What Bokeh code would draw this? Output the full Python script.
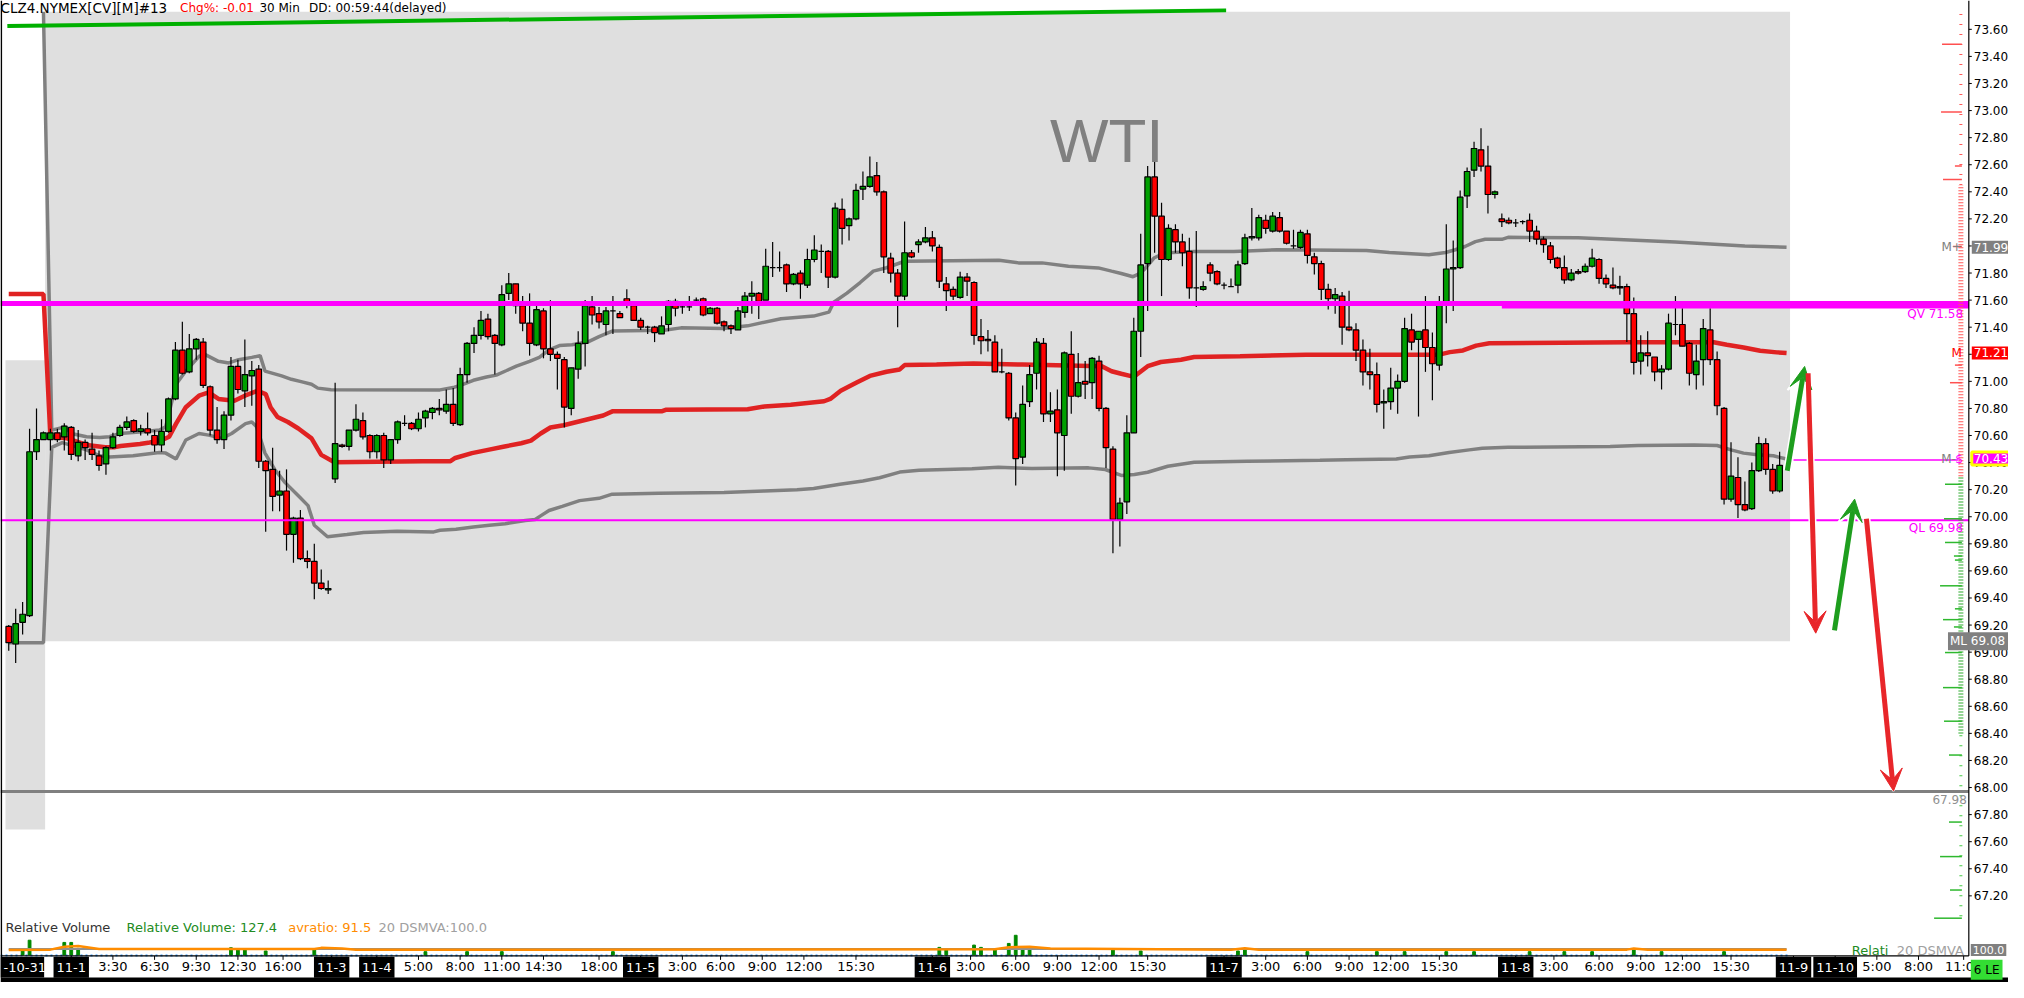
from bokeh.plotting import figure
from bokeh.models import Range1d, Label, Arrow, VeeHead
from bokeh.core.properties import value
from bokeh.embed import file_html
from bokeh.resources import INLINE

# ---------------- data (30-min candles, CLZ4) ----------------
opens = [
 69.19,69.06,69.22,69.27,70.48,70.57,70.57,70.62,70.59,70.66,
 70.45,70.55,70.50,70.45,70.39,70.51,70.60,70.66,70.71,70.63,
 70.65,70.60,70.53,70.63,70.87,71.23,71.07,71.24,71.29,70.96,
 70.64,70.57,70.75,71.11,70.93,71.04,71.09,70.41,70.35,70.16,
 70.19,69.87,69.99,69.69,69.67,69.51,69.46,70.28,70.53,70.52,
 70.64,70.71,70.60,70.48,70.60,70.42,70.57,70.69,70.69,70.65,
 70.73,70.77,70.80,70.78,70.83,70.68,71.05,71.28,71.34,71.46,
 71.34,71.27,71.65,71.72,71.56,71.43,71.27,71.52,71.24,71.20,
 71.16,70.80,71.09,71.28,71.55,71.50,71.42,71.52,71.50,71.61,
 71.56,71.45,71.40,71.40,71.35,71.42,71.59,71.55,71.55,71.60,
 71.61,71.50,71.54,71.44,71.41,71.38,71.51,71.63,71.65,71.60,
 71.84,71.84,71.86,71.72,71.80,71.71,71.90,71.96,71.96,71.77,
 72.27,72.15,72.20,72.42,72.44,72.52,72.40,71.91,71.80,71.63,
 71.95,72.01,72.03,72.06,71.99,71.72,71.68,71.62,71.77,71.73,
 71.33,71.31,71.29,71.07,71.06,70.73,70.44,70.85,71.06,71.28,
 70.76,70.79,70.60,71.20,70.89,71.00,70.99,71.15,70.80,70.50,
 69.98,70.11,70.62,71.37,71.87,72.51,72.22,71.90,72.12,72.03,
 71.96,71.69,71.68,71.86,71.81,71.71,71.70,71.71,71.87,72.06,
 72.06,72.19,72.11,72.21,72.11,72.00,71.99,72.09,71.92,71.87,
 71.68,71.61,71.63,71.40,71.38,71.23,71.07,71.05,70.84,70.85,
 70.95,71.00,71.38,71.31,71.38,71.25,71.12,71.57,71.83,71.84,
 72.37,72.56,72.71,72.59,72.38,72.20,72.19,72.17,72.18,72.19,
 72.11,72.05,72.00,71.91,71.84,71.75,71.81,71.81,71.85,71.90,
 71.76,71.71,71.69,71.70,71.50,71.15,71.21,71.18,71.07,71.09,
 71.42,71.42,71.28,71.05,71.16,71.38,71.16,70.80,70.13,70.29,
 70.09,70.06,70.34,70.54,70.35,70.19]
highs = [
 69.20,69.32,69.37,70.65,70.80,70.63,70.65,70.65,70.69,70.67,
 70.64,70.57,70.62,70.49,70.52,70.62,70.68,70.74,70.72,70.68,
 70.77,70.64,70.72,70.88,71.29,71.44,71.35,71.32,71.32,70.97,
 70.81,70.78,71.18,71.16,71.31,71.15,71.12,70.42,70.51,70.34,
 70.35,70.00,70.05,69.75,69.80,69.61,69.53,70.99,70.54,70.64,
 70.83,70.77,70.61,70.61,70.62,70.57,70.71,70.75,70.70,70.77,
 70.79,70.81,70.87,70.94,70.95,71.10,71.29,71.40,71.52,71.50,
 71.35,71.71,71.80,71.72,71.63,71.65,71.56,71.54,71.60,71.22,
 71.18,71.10,71.37,71.60,71.63,71.55,71.55,71.63,71.52,71.68,
 71.58,71.47,71.41,71.41,71.48,71.60,71.61,71.59,71.63,71.62,
 71.62,71.55,71.55,71.45,71.42,71.55,71.66,71.74,71.66,71.98,
 72.03,71.96,71.87,71.80,71.82,71.98,72.08,72.01,71.97,72.32,
 72.35,72.21,72.46,72.55,72.66,72.62,72.41,71.95,71.83,72.18,
 71.97,72.05,72.14,72.11,72.01,71.77,71.70,71.81,71.80,71.74,
 71.46,71.38,71.34,71.24,71.07,70.77,70.97,71.12,71.32,71.32,
 70.92,70.94,71.22,71.37,71.21,71.15,71.18,71.19,70.81,70.52,
 70.14,70.75,71.47,72.09,72.59,72.62,72.32,72.16,72.16,72.09,
 72.06,72.11,71.74,71.88,71.82,71.73,71.76,71.89,72.09,72.28,
 72.23,72.23,72.25,72.25,72.11,72.12,72.12,72.12,71.95,71.89,
 71.72,71.69,71.66,71.67,71.43,71.31,71.24,71.14,70.94,71.10,
 71.05,71.47,71.50,71.37,71.63,71.36,71.63,72.16,72.04,72.41,
 72.58,72.77,72.87,72.74,72.41,72.24,72.21,72.20,72.19,72.24,
 72.15,72.07,72.03,71.92,71.93,71.83,71.83,71.87,71.98,71.91,
 71.79,71.84,71.78,71.72,71.62,71.34,71.37,71.18,71.12,71.50,
 71.63,71.54,71.29,71.27,71.46,71.54,71.22,70.81,70.55,70.44,
 70.26,70.40,70.59,70.58,70.39,70.48]
lows = [
 69.01,68.92,69.13,69.26,70.42,70.57,70.49,70.55,70.49,70.42,
 70.41,70.42,70.42,70.34,70.31,70.50,70.59,70.64,70.62,70.60,
 70.60,70.48,70.48,70.62,70.86,71.05,71.06,71.16,70.95,70.60,
 70.54,70.50,70.71,70.91,70.81,70.82,70.36,69.89,70.04,70.04,
 69.75,69.66,69.68,69.62,69.39,69.46,69.43,70.25,70.51,70.49,
 70.63,70.57,70.43,70.43,70.36,70.39,70.54,70.67,70.64,70.63,
 70.66,70.72,70.75,70.76,70.67,70.67,70.99,71.21,71.31,71.31,
 71.05,71.26,71.60,71.50,71.37,71.19,71.26,71.17,71.15,70.94,
 70.66,70.75,71.02,71.11,71.42,71.39,71.34,71.35,71.47,71.54,
 71.45,71.38,71.35,71.29,71.35,71.37,71.48,71.50,71.52,71.57,
 71.48,71.50,71.42,71.37,71.35,71.38,71.47,71.50,71.46,71.60,
 71.77,71.81,71.66,71.71,71.61,71.69,71.88,71.80,71.69,71.76,
 72.01,72.04,72.19,72.34,72.43,72.37,71.80,71.73,71.40,71.60,
 71.91,71.95,72.02,71.96,71.69,71.52,71.60,71.61,71.63,71.27,
 71.20,71.22,71.07,71.06,70.71,70.23,70.39,70.81,70.94,70.70,
 70.70,70.30,70.34,70.76,70.88,70.87,70.87,70.78,70.36,69.73,
 69.78,70.02,70.62,71.18,71.52,71.95,71.63,71.89,71.95,71.85,
 71.61,71.55,71.67,71.74,71.71,71.68,71.70,71.65,71.86,72.04,
 72.04,72.09,72.10,72.10,72.01,71.98,71.98,71.87,71.79,71.60,
 71.53,71.50,71.27,71.37,71.15,70.97,70.94,70.77,70.65,70.79,
 70.76,70.99,71.23,70.74,71.07,70.86,71.08,71.43,71.52,71.83,
 72.28,72.51,72.55,72.24,72.35,72.14,72.16,72.14,72.16,72.03,
 72.01,71.95,71.87,71.83,71.72,71.74,71.79,71.80,71.84,71.72,
 71.69,71.68,71.64,71.29,71.05,71.05,71.11,71.00,70.94,71.08,
 71.34,71.26,70.97,70.94,70.97,71.12,70.75,70.09,70.11,69.99,
 70.04,70.05,70.33,70.31,70.17,70.18]
closes = [
 69.07,69.21,69.28,70.48,70.57,70.62,70.62,70.57,70.67,70.46,
 70.55,70.51,70.46,70.38,70.51,70.59,70.66,70.70,70.63,70.65,
 70.62,70.53,70.63,70.87,71.23,71.06,71.24,71.31,70.97,70.64,
 70.57,70.75,71.11,70.94,71.05,71.08,70.41,70.34,70.15,70.19,
 69.87,69.99,69.69,69.67,69.51,69.47,69.47,70.54,70.52,70.64,
 70.72,70.59,70.48,70.60,70.42,70.57,70.70,70.69,70.65,70.72,
 70.78,70.80,70.79,70.83,70.69,71.05,71.28,71.34,71.45,71.33,
 71.28,71.64,71.72,71.56,71.43,71.28,71.53,71.24,71.20,71.17,
 70.81,71.10,71.28,71.56,71.49,71.44,71.52,71.52,71.47,71.58,
 71.45,71.40,71.40,71.36,71.41,71.59,71.54,71.55,71.55,71.60,
 71.49,71.54,71.43,71.41,71.39,71.52,71.63,71.65,71.59,71.85,
 71.84,71.84,71.72,71.79,71.72,71.90,71.97,71.96,71.77,72.28,
 72.13,72.20,72.41,72.44,72.51,72.40,71.92,71.80,71.63,71.95,
 71.92,72.03,72.06,72.00,71.74,71.67,71.63,71.77,71.74,71.34,
 71.30,71.30,71.07,71.07,70.73,70.43,70.83,71.05,71.29,70.76,
 70.78,70.62,71.21,70.89,70.99,70.98,71.17,70.80,70.51,69.98,
 70.10,70.62,71.37,71.86,72.51,72.22,71.90,72.13,72.03,71.95,
 71.69,71.69,71.70,71.80,71.72,71.71,71.70,71.86,72.06,72.07,
 72.21,72.13,72.22,72.11,72.02,72.00,72.10,71.93,71.87,71.68,
 71.61,71.64,71.40,71.38,71.23,71.07,71.05,70.83,70.85,70.95,
 71.00,71.39,71.29,71.37,71.25,71.13,71.57,71.83,71.84,72.36,
 72.55,72.72,72.59,72.38,72.40,72.18,72.17,72.17,72.18,72.11,
 72.05,72.01,71.90,71.84,71.75,71.80,71.80,71.85,71.91,71.76,
 71.72,71.69,71.70,71.50,71.14,71.21,71.19,71.07,71.09,71.43,
 71.42,71.26,71.06,71.15,71.39,71.16,70.82,70.13,70.30,70.09,
 70.05,70.34,70.54,70.35,70.19,70.38]
bar_idx = list(range(len(opens)))

# VWAP (red) and bands (gray): vertices (bar index, price)
vwap_idx = [0,5,6,8.3,11.2,13.9,15.3,16.1,18.9,20.3,22.1,23.1,24.1,25.5,27.4,28.8,30.2,32.5,34,35.8,37,37.7,38.7,40.2,41.7,43.6,45,46.9,
            59.6,63.6,64.3,66.7,69,71.4,73.8,75.2,76.6,78,79.9,81.8,83.7,85.6,87,94.1,94.6,106.4,108.8,112.6,117.4,118.3,119.8,122.1,124,
            126.4,128.3,129,133.6,138.9,146,157.4,158.8,160.2,161.6,162.3,164,165.9,168.8,170.7,177.3,186.8,206,207.5,209.4,211.3,213.2,
            223.7,233.3,245.5,247.4,249.8,252.2,254.6,256]
vwap_val = [71.645,71.645,70.59,70.58,70.53,70.514,70.514,70.523,70.537,70.548,70.567,70.591,70.688,70.809,70.894,70.918,70.87,70.857,70.894,70.93,70.906,70.809,70.737,70.70,70.652,70.579,70.457,70.402,
            70.41,70.41,70.434,70.47,70.494,70.519,70.543,70.562,70.615,70.659,70.676,70.70,70.724,70.748,70.78,70.78,70.79,70.794,70.814,70.828,70.853,70.87,70.93,70.991,71.04,
            71.071,71.088,71.12,71.124,71.131,71.124,71.112,71.075,71.056,71.039,71.045,71.112,71.143,71.16,71.18,71.185,71.197,71.197,71.216,71.228,71.264,71.281,
            71.286,71.289,71.289,71.27,71.25,71.226,71.214,71.209]
upper_idx = [5,6.2,8.1,9,11.2,13.1,14.5,16,19.3,21.7,22.6,24.1,25.5,27.4,28.3,30.2,31.7,33.1,35,36.2,36.9,39.3,40.7,42.1,43.6,44.5,46.4,
             62.1,64,65.5,66.9,68.8,70.2,71.7,73.1,75,76.4,77.8,79.3,81.1,83.5,85,86.9,94.4,96.8,102.9,106.4,111.2,115.9,118.1,118.8,120.7,
             122.6,124.5,126.4,129,142.6,145.4,148.8,152.6,156.9,158.8,160.2,161.9,162.6,163.5,164.9,166.4,170.7,176.4,182.6,195.5,198.8,
             204.5,206.9,208.3,209.7,211.2,212.6,215,215.9,226,240,250,256]
upper_val = [73.73,70.64,70.664,70.615,70.591,70.586,70.591,70.615,70.627,70.64,70.664,70.979,71.076,71.185,71.197,71.148,71.136,71.16,71.177,71.19,71.076,71.04,71.015,70.998,70.979,70.95,70.938,
             70.937,70.954,70.979,71.008,71.032,71.046,71.08,71.112,71.148,71.177,71.233,71.264,71.27,71.293,71.33,71.371,71.378,71.395,71.39,71.41,71.463,71.482,71.511,71.584,71.652,
             71.73,71.814,71.839,71.887,71.894,71.875,71.875,71.85,71.838,71.814,71.797,71.773,71.79,71.826,71.911,71.948,71.96,71.96,71.972,71.967,71.952,
             71.935,71.952,71.972,71.996,72.032,72.049,72.049,72.064,72.06,72.03,72.0,71.99]
lower_idx = [0,5,6.2,7.7,8.3,11.2,13.1,14.5,17.9,21.7,22.6,24.1,25.5,27.4,28.8,30.7,32.1,34.1,35,35.7,36.9,38.3,39.8,41.7,43.1,44,45.9,48.7,
             51.1,55.9,61.2,62.1,64.4,66.9,69.2,71.5,74.4,75.8,76.7,77.8,79.7,82.2,85,86.9,93.6,103,108.8,113.5,115.9,119.7,123,125.4,128.3,
             131.1,134.9,138.7,142.5,147.3,155.5,157.9,160.2,162.1,164,166.9,170.7,178.3,188.8,192.6,199.8,201.7,204.5,207.4,210.3,212.2,
             215.9,230.6,234.6,242.7,246,248,249.8,251.8,254.1,256]
lower_val = [69.07,69.07,70.513,70.547,70.538,70.494,70.45,70.441,70.45,70.475,70.47,70.426,70.567,70.615,70.603,70.579,70.615,70.688,70.70,70.664,70.47,70.349,70.252,70.155,70.082,69.937,69.852,69.869,
             69.884,69.893,69.888,69.9,69.908,69.925,69.937,69.949,69.973,69.98,70.01,70.046,70.077,70.119,70.136,70.167,70.174,70.18,70.191,70.199,70.208,70.24,70.264,70.288,70.33,
             70.344,70.349,70.354,70.366,70.356,70.361,70.349,70.305,70.312,70.329,70.373,70.402,70.41,70.417,70.421,70.426,70.441,70.45,70.475,70.494,70.506,
             70.513,70.518,70.526,70.53,70.526,70.494,70.47,70.458,70.45,70.426]

# shaded ranges (prior-day ranges)
range_left = [5.24, -0.47]
range_right = [256.5, 5.24]
range_bottom = [69.08, 67.69]
range_top = [73.73, 71.155]

# green trend line at the top
trend_idx = [-0.2, 175.3]
trend_val = [73.624, 73.74]

# horizontal levels
qv_level = 71.575
qv_today = 71.557
qv_today_from = 215
ql_level = 69.975
mminus_level = 70.42
mminus_from = 257
low_target = 67.97

# right-axis highlighted values
m_plus, m_mid, m_minus, m_low = 71.99, 71.21, 70.43, 69.08

# axis ticks
price_ticks = [67.2, 67.4, 67.6, 67.8, 68.0, 68.2, 68.4, 68.6, 68.8, 69.0, 69.2, 69.4, 69.6, 69.8, 70.0, 70.2, 70.4,
               70.6, 70.8, 71.0, 71.2, 71.4, 71.6, 71.8, 72.0, 72.2, 72.4, 72.6, 72.8, 73.0, 73.2, 73.4, 73.6]
time_pos = [15, 21, 27, 33, 39.5, 59, 65, 71, 77, 85, 97, 102.5, 108.5, 114.5, 122, 138.5, 145, 151, 157, 164,
            181, 187, 193, 199, 206, 222.5, 229, 235, 241, 248, 269, 275, 281.5]
time_lab = ["3:30", "6:30", "9:30", "12:30", "16:00", "5:00", "8:00", "11:00", "14:30", "18:00",
            "3:00", "6:00", "9:00", "12:00", "15:30", "3:00", "6:00", "9:00", "12:00", "15:30",
            "3:00", "6:00", "9:00", "12:00", "15:30", "3:00", "6:00", "9:00", "12:00", "15:30",
            "5:00", "8:00", "11:00"]
day_pos = [9, 46.5, 53, 91, 133, 175, 217, 257, 263]
day_lab = ["11-1", "11-3", "11-4", "11-5", "11-6", "11-7", "11-8", "11-9", "11-10"]
first_day_lab = "-10-31"

# relative volume pane
vol_idx = [2, 3, 8, 9, 10, 32, 33, 34, 37, 44, 60, 66, 71, 87, 134, 135, 139, 140, 142, 144, 145, 146, 147,
           159, 163, 177, 178, 187, 197, 201, 207, 211, 219, 224, 228, 234, 238, 247]
vol_val = [67, 250, 212, 212, 112, 122, 95, 83, 67, 100, 55, 55, 55, 55, 128, 83, 167, 128, 100, 195, 333, 112, 112,
           83, 67, 67, 83, 55, 55, 55, 55, 55, 55, 55, 55, 83, 55, 55]
avr_idx = [0, 6, 8, 10, 13, 44, 45, 48, 50, 80, 142, 144, 147, 150, 176, 178, 180, 233, 234, 236, 256]
avr_val = [85, 90, 140, 150, 100, 100, 120, 110, 90, 90, 95, 130, 140, 110, 90, 115, 90, 90, 110, 90, 90]
dsmva_idx = [0, 256]
dsmva_val = [100, 100]

# volume-at-price profile marks (price, length in px)
prof_red_price = [73.49, 72.99, 72.59, 72.49, 71.996, 71.12, 70.99]
prof_red_len = [20, 21, 7, 19, 9, 7, 12]
prof_green_price = [70.24, 69.985, 69.81, 69.71, 69.68, 69.49, 69.32, 69.24, 69.186, 68.997, 68.738, 68.49,
                    68.24, 67.745, 67.49, 67.243, 67.035]
prof_green_len = [17, 18, 17, 8, 7, 22, 7, 19, 8, 17, 19, 18, 13, 13, 22, 12, 28]

# drawn scenario arrows
arrow_x0 = [256.1, 259.1, 262.9, 267.5]
arrow_y0 = [70.34, 71.06, 69.16, 69.985]
arrow_x1 = [258.6, 260.2, 265.8, 271.4]
arrow_y1 = [71.11, 69.14, 70.13, 67.975]
arrow_col = ["#1E9E1E", "#E8262A", "#1E9E1E", "#E8262A"]

# ---------------- helpers: reference pixel position -> data coordinates ----------------
def ix(px):
    return (px - 8.3) / 7.0

def py(px):
    return 73.6 - (px - 29.3) / 137.6

UP, DN = "#00A000", "#FF0000"
MAG = "#FF00FF"
GRAY = "#808080"
FONT = "DejaVu Sans"

AX = ix(1984)      # price axis line
TY = py(971)       # time axis line
X_LO = ix(0)

p = figure(width=2008, height=982, output_backend="svg", toolbar_location=None,
           x_range=Range1d(ix(0), ix(2024)), y_range=Range1d(py(998), py(0)),
           x_axis_location=None, y_axis_location=None,
           min_border_left=0, min_border_top=0, min_border_right=0, min_border_bottom=0)
p.grid.visible = False
p.outline_line_color = None
p.background_fill_color = "white"
p.border_fill_color = "white"
p.extra_y_ranges = {"vol": Range1d(-466.7, 16166.7)}

# shaded range boxes
p.quad(left=range_left, right=range_right, bottom=range_bottom, top=range_top,
       fill_color="#DFDFDF", line_color=None)

# bands and vwap
p.line(upper_idx, upper_val, line_color=GRAY, line_width=3.5)
p.line(lower_idx, lower_val, line_color=GRAY, line_width=3.5)
p.line(vwap_idx, vwap_val, line_color="#E02222", line_width=4.5)

# candles
body_top = [max(o, c) for o, c in zip(opens, closes)]
body_bot = [min(o, c) for o, c in zip(opens, closes)]
cols = [UP if c > o else (DN if c < o else "black") for o, c in zip(opens, closes)]
p.segment(bar_idx, lows, bar_idx, highs, line_color="black", line_width=1.2)
p.vbar(x=bar_idx, top=body_top, bottom=body_bot, width=0.8, fill_color=cols,
       line_color="black", line_width=1.2)

# horizontal levels
p.segment([X_LO], [qv_level], [AX], [qv_level], line_color=MAG, line_width=5)
p.segment([qv_today_from], [qv_today], [AX], [qv_today], line_color=MAG, line_width=5)
p.segment([X_LO], [ql_level], [AX], [ql_level], line_color=MAG, line_width=2)
p.segment([mminus_from], [mminus_level], [ix(1973)], [mminus_level], line_color=MAG, line_width=1.5)
p.segment([X_LO], [low_target], [AX], [low_target], line_color=GRAY, line_width=3)

# green trend line
p.line(trend_idx, trend_val, line_color="#00B000", line_width=4)

# volume profile at right edge
PX_END = ix(1977)
p.line([ix(1976), ix(1976)], [70.30, 72.45], line_color="#FF5A5A", line_width=5, line_dash="1 2")
p.line([ix(1976), ix(1976)], [72.45, 73.75], line_color="#FF5A5A", line_width=3, line_dash="1 9")
p.line([ix(1976), ix(1976)], [68.40, 70.30], line_color="#2EAA2E", line_width=5, line_dash="1 2")
p.line([ix(1976), ix(1976)], [67.05, 68.40], line_color="#44CC44", line_width=3, line_dash="1 9")
p.segment([PX_END - l / 7.0 for l in prof_red_len], prof_red_price, [PX_END] * len(prof_red_len), prof_red_price,
          line_color="#FF5050", line_width=1.5)
p.segment([PX_END - l / 7.0 for l in prof_green_len], prof_green_price, [PX_END] * len(prof_green_len), prof_green_price,
          line_color="#2EB82E", line_width=1.5)

# relative volume pane
p.line([X_LO, 256.5], [-8, -8], y_range_name="vol", line_color="#3399FF", line_width=2, line_dash="2 3")
p.vbar(x=vol_idx, top=vol_val, bottom=0, width=0.4, y_range_name="vol", fill_color="#008800", line_color="#008800")
p.line(dsmva_idx, dsmva_val, y_range_name="vol", line_color="#909090", line_width=2)
p.line(avr_idx, avr_val, y_range_name="vol", line_color="#FF8C00", line_width=2.5)

# ---- price scale (right) ----
n = len(price_ticks)
p.segment([AX], [py(0)], [AX], [TY], line_color="black", line_width=1.2)
p.segment([AX] * n, price_ticks, [ix(1987)] * n, price_ticks, line_color="black", line_width=1)
p.text(x=[ix(1989)] * n, y=price_ticks, text=["%.2f" % t for t in price_ticks],
       text_font=value(FONT), text_font_size="12px", text_color="black",
       text_align="left", text_baseline="middle")

# ---- time scale (bottom) ----
all_pos = time_pos + day_pos
p.segment([X_LO], [TY], [AX], [TY], line_color="black", line_width=1.2)
p.segment(all_pos, [TY] * len(all_pos), all_pos, [py(975)] * len(all_pos), line_color="black", line_width=1)
p.text(x=time_pos, y=[py(982)] * len(time_pos), text=time_lab,
       text_font=value(FONT), text_font_size="13px", text_color="black",
       text_align="center", text_baseline="middle")
# day boxes (black) with white text
DY = py(982.5)
day_w = [sum(4.5 if ch == "-" else 8.3 for ch in t) + 6 for t in day_lab]
p.rect(x=day_pos, y=[DY] * len(day_pos), width=day_w, height=21, width_units="screen", height_units="screen",
       fill_color="black", line_color=None)
p.text(x=day_pos, y=[DY] * len(day_pos), text=day_lab, text_font=value(FONT), text_font_size="13px",
       text_color="white", text_align="center", text_baseline="middle")
p.quad(left=[ix(0)], right=[ix(44)], bottom=[py(993)], top=[py(972)], fill_color="black", line_color=None)
p.text(x=[ix(3)], y=[DY], text=[first_day_lab], text_font=value(FONT), text_font_size="13px",
       text_color="white", text_align="left", text_baseline="middle")

# bottom border bar and left border line
p.quad(left=[ix(0)], right=[ix(2024)], bottom=[py(998)], top=[py(993)], fill_color="black", line_color=None)
p.segment([ix(0.8)], [py(0)], [ix(0.8)], [py(993)], line_color="black", line_width=1.6)

# arrows
for x0, y0, x1, y1, c in zip(arrow_x0, arrow_y0, arrow_x1, arrow_y1, arrow_col):
    p.add_layout(Arrow(x_start=x0, y_start=y0, x_end=x1, y_end=y1, line_color="white", line_width=8,
                       end=VeeHead(size=26, fill_color="white", line_color="white", line_width=2)))
for x0, y0, x1, y1, c in zip(arrow_x0, arrow_y0, arrow_x1, arrow_y1, arrow_col):
    p.add_layout(Arrow(x_start=x0, y_start=y0, x_end=x1, y_end=y1, line_color=c, line_width=5,
                       end=VeeHead(size=22, fill_color=c, line_color=c, line_width=1)))

def lab(x, y, text, color="black", size="12px", align="left", baseline="middle", font=FONT, **kw):
    p.add_layout(Label(x=x, y=y, text=text, text_color=color, text_font=font, text_font_size=size,
                       text_align=align, text_baseline=baseline, **kw))

# header
HY = py(8)
lab(ix(0), HY, "CLZ4.NYMEX[CV][M]#13", size="13.5px", baseline="alphabetic")
lab(ix(181), HY, "Chg%: -0.01", color="#FF0000", baseline="alphabetic")
lab(ix(261), HY, "30 Min", baseline="alphabetic")
lab(ix(311), HY, "DD: 00:59:44(delayed)", baseline="alphabetic")

# WTI watermark
lab(ix(1115), py(142), "WTI", color=GRAY, size="62px", align="center", baseline="alphabetic", font="Liberation Sans")

# right side level tags
lab(ix(1977), m_plus, "M+", color=GRAY, align="right")
lab(ix(1987), m_plus, "71.99", color="white", background_fill_color=GRAY, padding=2)
lab(ix(1982), py(319), "QV  71.58", color=MAG, align="right")
lab(ix(1977), m_mid, "M", color="#FF0000", align="right")
lab(ix(1987), m_mid, "71.21", color="white", background_fill_color="#FF0000", padding=2)
lab(ix(1971), m_minus, "M-", color=GRAY, align="right")
lab(ix(1978), m_minus, "$", color=MAG, align="right")
lab(ix(1987), m_minus, "70.43", color="white", background_fill_color=MAG, padding=2,
    border_line_color="#FFFF00", border_line_width=3)
lab(ix(1982), py(536), "QL  69.98", color=MAG, align="right")
lab(ix(1963), m_low, "ML   69.08", color="white", background_fill_color=GRAY, padding=2)
lab(ix(1982), py(812), "67.98", color="#909090", align="right")

# volume pane texts
VY = py(942)
lab(ix(5), VY, "Relative Volume", color="#333333", size="13px")
lab(ix(127), VY, "Relative Volume: 127.4", color="#228B22", size="13px")
lab(ix(290), VY, "avratio: 91.5", color="#FF8C00", size="13px")
lab(ix(381), VY, "20 DSMVA:100.0", color="#A0A0A0", size="13px")
lab(ix(1866), py(965), "Relati", color="#228B22", size="13px")
lab(ix(1979), py(965), "20 DSMVA", color="#A0A0A0", size="13px", align="right")
lab(ix(1986), py(965), "100.0", color="white", size="11px", background_fill_color=GRAY, padding=2)
lab(ix(1986), py(985), "6 LE", color="black", size="12px", background_fill_color="#33DD33", padding=3)

open("out.html", "w").write(file_html(p, INLINE))
